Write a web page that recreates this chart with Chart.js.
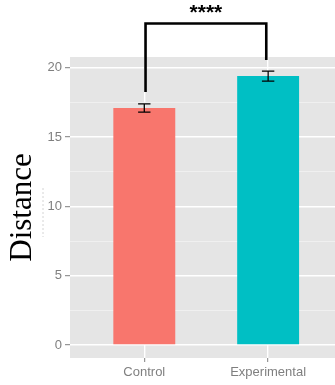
<!DOCTYPE html>
<html>
<head>
<meta charset="utf-8">
<style>
  html, body { margin: 0; padding: 0; background: #fff; overflow: hidden; }
  #wrap { width: 335px; height: 385px; position: relative; }
</style>
<script src="https://cdn.jsdelivr.net/npm/chart.js@4.4.0/dist/chart.umd.min.js"></script>
</head>
<body>
<div id="wrap"><canvas id="chart"></canvas></div>
<script>
// data
var groups = ["Control", "Experimental"];
var groupPos = [1, 2];
var means = [17.1, 19.4];
var errors = [0.3, 0.36];
var barColors = ["#F8766D", "#00BFC4"];
var yTicks = [0, 2.5, 5, 7.5, 10, 12.5, 15, 17.5, 20];
var sigLabel = "****";
// significance bracket (data units)
var bracketTop = 23.2;
var bracketEnds = [18.25, 20.56];

var isMajor = function (v) { return v % 5 === 0; };

// grey panel behind the grid
var panelBg = {
  id: 'panelBg',
  beforeDraw: function (chart) {
    var a = chart.chartArea, c = chart.ctx;
    c.save();
    c.fillStyle = '#e5e5e5';
    c.fillRect(a.left, a.top, a.right - a.left, a.bottom - a.top);
    c.restore();
  }
};

// error bars + bracket + stars
var extras = {
  id: 'extras',
  afterDatasetsDraw: function (chart) {
    var c = chart.ctx, xs = chart.scales.x, ys = chart.scales.y;
    c.save();
    c.strokeStyle = '#000';
    c.lineWidth = 1.3;
    for (var i = 0; i < means.length; i++) {
      var x = xs.getPixelForValue(groupPos[i]);
      var hw = xs.getPixelForValue(groupPos[i] + 0.05) - x;
      var y1 = ys.getPixelForValue(means[i] + errors[i]);
      var y2 = ys.getPixelForValue(means[i] - errors[i]);
      c.beginPath();
      c.moveTo(x, y1); c.lineTo(x, y2);
      c.moveTo(x - hw, y1); c.lineTo(x + hw, y1);
      c.moveTo(x - hw, y2); c.lineTo(x + hw, y2);
      c.stroke();
    }
    c.restore();
  },
  afterDraw: function (chart) {
    var c = chart.ctx, xs = chart.scales.x, ys = chart.scales.y;
    var xl = xs.getPixelForValue(groupPos[0] + 0.01);
    var xr = xs.getPixelForValue(groupPos[1] - 0.015);
    var yt = ys.getPixelForValue(bracketTop);
    c.save();
    c.strokeStyle = '#000';
    c.lineWidth = 2.6;
    c.lineJoin = 'miter';
    c.beginPath();
    c.moveTo(xl, ys.getPixelForValue(bracketEnds[0]));
    c.lineTo(xl, yt);
    c.lineTo(xr, yt);
    c.lineTo(xr, ys.getPixelForValue(bracketEnds[1]));
    c.stroke();
    c.fillStyle = '#000';
    c.font = 'bold 21px "Liberation Sans", Arial, sans-serif';
    c.textAlign = 'center';
    c.textBaseline = 'alphabetic';
    c.fillText(sigLabel, (xl + xr) / 2, yt - 4);
    // faint dashed mark beside the axis title
    c.strokeStyle = '#d4d4d4';
    c.lineWidth = 1;
    c.setLineDash([2, 2]);
    c.beginPath();
    c.moveTo(43, 188); c.lineTo(43, 237);
    c.stroke();
    c.restore();
  }
};

new Chart(document.getElementById('chart'), {
  type: 'bar',
  data: {
    datasets: [{
      data: groupPos.map(function (p, i) { return { x: p, y: means[i] }; }),
      backgroundColor: barColors,
      borderWidth: 0,
      barPercentage: 0.5,
      categoryPercentage: 1
    }]
  },
  options: {
    responsive: true,
    maintainAspectRatio: false,
    animation: false,
    layout: { padding: { top: 57, left: 0, right: 0, bottom: 0 } },
    plugins: { legend: { display: false }, tooltip: { enabled: false } },
    scales: {
      x: {
        type: 'linear',
        min: 0.4,
        max: 2.54,
        offset: false,
        afterBuildTicks: function (s) { s.ticks = groupPos.map(function (v) { return { value: v }; }); },
        afterFit: function (s) { s.height = 27; },
        border: { display: false },
        grid: { offset: false, color: '#ffffff', lineWidth: 1.4, tickColor: '#7f7f7f', tickLength: 4, tickWidth: 1 },
        ticks: {
          padding: 3,
          autoSkip: false,
          maxRotation: 0,
          color: '#7f7f7f',
          font: { family: '"Liberation Sans", Arial, sans-serif', size: 13 },
          callback: function (v) { return groups[groupPos.indexOf(v)]; }
        }
      },
      y: {
        min: -0.94,
        max: 20.78,
        afterBuildTicks: function (s) { s.ticks = yTicks.map(function (v) { return { value: v }; }); },
        afterFit: function (s) { s.width = 70; },
        border: { display: false },
        grid: {
          color: function (ctx) { return isMajor(ctx.tick.value) ? '#ffffff' : '#f2f2f2'; },
          lineWidth: function (ctx) { return isMajor(ctx.tick.value) ? 1.4 : 0.8; },
          tickColor: function (ctx) { return isMajor(ctx.tick.value) ? '#7f7f7f' : 'rgba(0,0,0,0)'; },
          tickLength: 5,
          tickWidth: 1
        },
        ticks: {
          padding: 3,
          color: '#7f7f7f',
          font: { family: '"Liberation Sans", Arial, sans-serif', size: 13 },
          callback: function (v) { return isMajor(v) ? String(v) : ''; }
        },
        title: {
          display: true,
          text: 'Distance',
          color: '#000',
          font: { family: '"Liberation Serif", "Times New Roman", serif', size: 31 },
          padding: { top: 4, bottom: 0 }
        }
      }
    }
  },
  plugins: [panelBg, extras]
});
</script>
</body>
</html>
